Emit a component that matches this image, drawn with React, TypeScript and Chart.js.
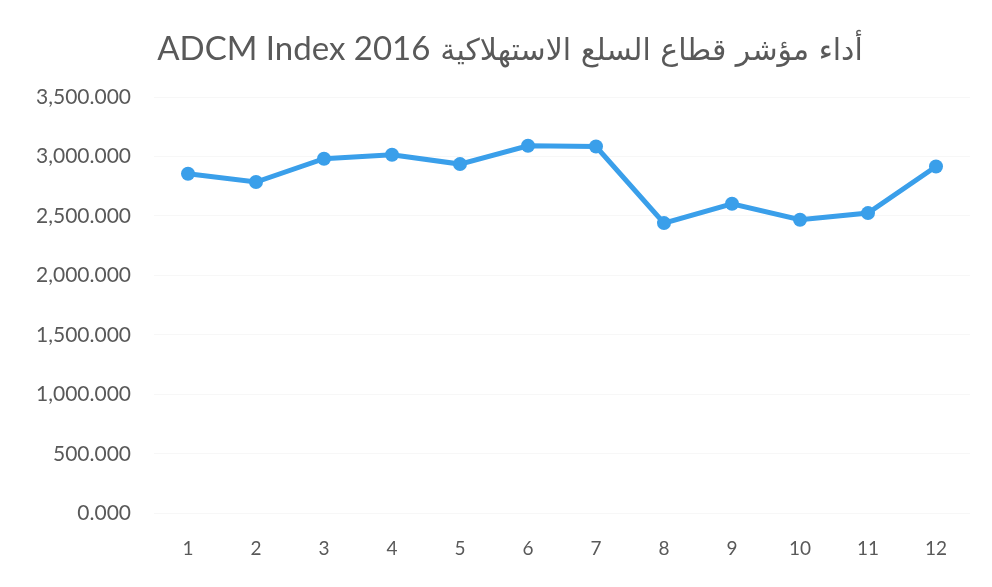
import React, { useEffect, useRef } from "react";
import { Chart, registerables } from "chart.js";

Chart.register(...registerables);

const categories = ["1", "2", "3", "4", "5", "6", "7", "8", "9", "10", "11", "12"];
const indexValues = [2855, 2785, 2981, 3015, 2936, 3090, 3084, 2440, 2602, 2468, 2524, 2916];
const titleLatin = "ADCM Index 2016";
const titleArabic = "أداء مؤشر قطاع السلع الاستهلاكية";
const yMax = 3500;
const yStep = 500;

const fmt = (v: number) =>
  v.toLocaleString("en-US", { minimumFractionDigits: 3, maximumFractionDigits: 3 });

const titlePlugin = {
  id: "twoPartTitle",
  afterDraw(chart: any) {
    const c = chart.ctx;
    c.save();
    c.fillStyle = "#595959";
    c.textBaseline = "alphabetic";
    c.textAlign = "left";
    c.font = "33px Lato";
    const w1 = c.measureText(titleLatin).width;
    c.font = "30px 'DejaVu Sans'";
    const w2 = c.measureText(titleArabic).width;
    const gap = 10;
    const total = w1 + gap + w2;
    const cx = 510;
    const x0 = cx - total / 2;
    c.font = "33px Lato";
    c.fillText(titleLatin, x0, 60);
    c.font = "30px 'DejaVu Sans'";
    c.direction = "rtl";
    c.textAlign = "right";
    c.fillText(titleArabic, x0 + total, 60);
    c.restore();
  },
};

export default function App() {
  const ref = useRef<HTMLCanvasElement | null>(null);
  useEffect(() => {
    document.body.style.margin = "0";
    const ctx = ref.current!.getContext("2d")!;
    const chart = new Chart(ctx, {
      type: "line",
      data: {
        labels: categories,
        datasets: [
          {
            data: indexValues,
            borderColor: "#3a9fea",
            backgroundColor: "#3a9fea",
            borderWidth: 5,
            pointRadius: 7,
            pointHoverRadius: 7,
            pointBorderWidth: 0,
            tension: 0,
          },
        ],
      },
      plugins: [titlePlugin],
      options: {
        animation: false,
        responsive: false,
        maintainAspectRatio: false,
        layout: { padding: { left: 0, right: 22, top: 97, bottom: 0 } },
        plugins: {
          legend: { display: false },
          tooltip: { enabled: false },
          title: { display: false },
        },
        scales: {
          x: {
            offset: true,
            grid: { display: false, drawTicks: false },
            border: { display: false },
            ticks: {
              color: "#595959",
              font: { family: "Lato", size: 19 },
              padding: 24,
            },
            afterFit: (s: any) => {
              s.height = 73.7;
            },
          },
          y: {
            min: 0,
            max: yMax,
            grid: { color: "#f7f7f7", drawTicks: false },
            border: { display: false },
            ticks: {
              stepSize: yStep,
              color: "#595959",
              font: { family: "Lato", size: 21 },
              padding: 23,
              callback: (v: any) => fmt(Number(v)),
            },
            afterFit: (s: any) => {
              s.width = 154;
            },
          },
        },
      },
    });
    return () => chart.destroy();
  }, []);
  return (
    <div style={{ width: 992, height: 587, background: "#fff" }}>
      <canvas ref={ref} width={992} height={587} style={{ display: "block" }} />
    </div>
  );
}
